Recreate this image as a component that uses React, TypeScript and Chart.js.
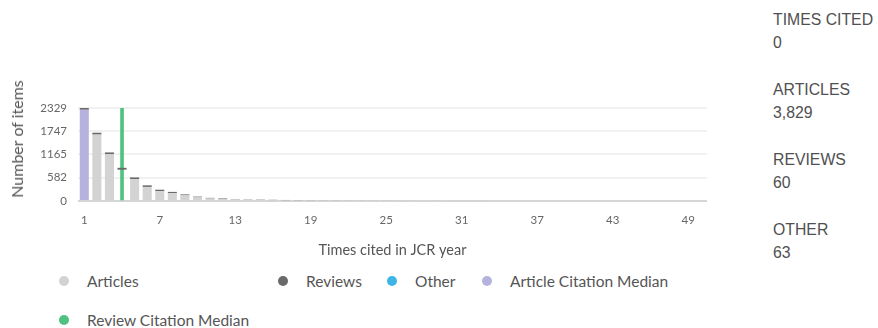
import React, { useEffect, useRef } from "react";
import { Chart, registerables } from "chart.js";

Chart.register(...registerables);

const categories = [
  "1", "2", "3", "4", "5", "6", "7", "8", "9", "10",
  "11", "12", "13", "14", "15", "16", "17", "18", "19", "20",
  "21", "22", "23", "24", "25", "26", "27", "28", "29", "30",
  "31", "32", "33", "34", "35", "36", "37", "38", "39", "40",
  "41", "42", "43", "44", "45", "46", "47", "48", "49", "50",
];

const articleValues = [
  2282, 1661, 1168, 783, 545, 352, 247, 198, 140, 90,
  63, 50, 37, 32, 28, 24, 20, 17, 14, 12,
  10, 8, 7, 6, 5, 4, 3, 3, 2, 2,
  1, 1, 1, 0, 0, 0, 0, 0, 0, 0,
  0, 0, 0, 0, 0, 0, 0, 0, 0, 0,
];

const reviewValues = [
  47, 47, 47, 47, 45, 40, 35, 30, 25, 20,
  15, 13, 10, 8, 8, 6, 6, 5, 5, 4,
  4, 3, 3, 2, 2, 2, 1, 1, 0, 0,
  0, 0, 0, 0, 0, 0, 0, 0, 0, 0,
  0, 0, 0, 0, 0, 0, 0, 0, 0, 0,
];

const otherValues: number[] = [];

const yTickValues = [0, 582, 1165, 1747, 2329];
const yMax = 2329;
const articleMedianCategory = "1";
const reviewMedianCategory = "4";
const xTickEvery = 6;
const yAxisTitle = "Number of items";
const xAxisTitle = "Times cited in JCR year";

const sidePanel = [
  { label: "TIMES CITED", value: "0" },
  { label: "ARTICLES", value: "3,829" },
  { label: "REVIEWS", value: "60" },
  { label: "OTHER", value: "63" },
];

const COLORS = {
  articles: "#d3d3d3",
  reviews: "#6a6a6a",
  other: "#3db5e6",
  articleMedian: "#b5b2dd",
  reviewMedian: "#4fc27f",
};

const legendItems = [
  { label: "Articles", color: COLORS.articles, x: 59, y: 282 },
  { label: "Reviews", color: COLORS.reviews, x: 278, y: 282 },
  { label: "Other", color: COLORS.other, x: 387, y: 282 },
  { label: "Article Citation Median", color: COLORS.articleMedian, x: 482, y: 282 },
  { label: "Review Citation Median", color: COLORS.reviewMedian, x: 59, y: 321 },
];

const FONT = "Lato, 'Noto Sans', sans-serif";

function ChartCanvas() {
  const ref = useRef<HTMLCanvasElement | null>(null);
  useEffect(() => {
    if (!ref.current) return;
    const articleColors = categories.map((c) =>
      c === articleMedianCategory
        ? COLORS.articleMedian
        : c === reviewMedianCategory
        ? "rgba(0,0,0,0)"
        : COLORS.articles
    );
    const reviewMedianValues = categories.map((c) =>
      c === reviewMedianCategory ? yMax : null
    );
    const chart = new Chart(ref.current, {
      type: "bar",
      data: {
        labels: categories,
        datasets: [
          {
            label: "Articles",
            data: articleValues,
            backgroundColor: articleColors,
            stack: "a",
            grouped: false,
            barPercentage: 0.9,
            categoryPercentage: 0.8,
            order: 0,
          } as any,
          {
            label: "Reviews",
            data: reviewValues,
            backgroundColor: COLORS.reviews,
            stack: "a",
            grouped: false,
            barPercentage: 0.9,
            categoryPercentage: 0.8,
            order: 1,
          } as any,
          {
            label: "Other",
            data: otherValues,
            backgroundColor: COLORS.other,
            stack: "a",
            grouped: false,
            order: 2,
          } as any,
          {
            label: "Review Citation Median",
            data: reviewMedianValues,
            backgroundColor: COLORS.reviewMedian,
            stack: "b",
            grouped: false,
            barThickness: 3,
            order: 3,
          } as any,
        ],
      },
      options: {
        animation: false,
        responsive: false,
        maintainAspectRatio: false,
        events: [],
        layout: { padding: { left: 3, right: 13, top: 12, bottom: 0 } },
        plugins: {
          legend: { display: false },
          tooltip: { enabled: false },
        },
        scales: {
          x: {
            stacked: false,
            grid: { display: false, drawTicks: false },
            border: { display: false },
            ticks: {
              autoSkip: false,
              maxRotation: 0,
              padding: 12,
              color: "#666",
              font: { family: FONT, size: 11.5 },
              callback: (_v: any, i: number) =>
                i % xTickEvery === 0 ? categories[i] : "",
            },
            title: {
              display: true,
              text: xAxisTitle,
              color: "#555",
              font: { family: FONT, size: 14.5 },
              padding: { top: 4, bottom: 1 },
            },
            afterFit: (s: any) => {
              s.height = 59;
            },
          },
          y: {
            stacked: true,
            min: 0,
            max: yMax,
            afterBuildTicks: (s: any) => {
              s.ticks = yTickValues.map((v) => ({ value: v }));
            },
            grid: {
              drawTicks: false,
              lineWidth: 2,
              color: (ctx: any) =>
                ctx.tick && ctx.tick.value === 0 ? "#d6d6d6" : "#f1f1f1",
            },
            border: { display: false },
            ticks: {
              padding: 11,
              color: "#666",
              font: { family: FONT, size: 11.5 },
              callback: (v: any) => String(v),
            },
            title: { display: false },
            afterFit: (s: any) => {
              s.width = 75;
            },
          },
        },
      } as any,
    });
    return () => chart.destroy();
  }, []);
  return <canvas ref={ref} width={720} height={170} style={{ width: 720, height: 170 }} />;
}

export default function App() {
  return (
    <div
      style={{
        position: "absolute",
        left: 0,
        top: 0,
        width: 878,
        height: 328,
        background: "#fff",
        overflow: "hidden",
      }}
    >
      <div style={{ position: "absolute", left: 0, top: 90 }}>
        <ChartCanvas />
      </div>
      <div
        style={{
          position: "absolute",
          left: 17,
          top: 139,
          transform: "translate(-50%, -50%) rotate(-90deg)",
          fontFamily: FONT,
          fontSize: 16,
          color: "#555",
          whiteSpace: "nowrap",
          lineHeight: "18px",
        }}
      >
        {yAxisTitle}
      </div>
      {legendItems.map((it) => (
        <div
          key={it.label}
          style={{
            position: "absolute",
            left: it.x,
            top: it.y - 11,
            height: 20,
            display: "flex",
            alignItems: "center",
            fontFamily: FONT,
            fontSize: 15.5,
            color: "#555",
            whiteSpace: "nowrap",
          }}
        >
          <span
            style={{
              display: "inline-block",
              width: 10,
              height: 10,
              borderRadius: "50%",
              background: it.color,
              marginRight: 18,
              flexShrink: 0,
            }}
          />
          {it.label}
        </div>
      ))}
      {sidePanel.map((p, i) => (
        <div
          key={p.label}
          style={{
            position: "absolute",
            left: 773,
            top: 8 + i * 70,
            fontFamily: "'Liberation Sans', Arial, sans-serif",
            fontSize: 15.8,
            lineHeight: "23px",
            color: "#505050",
            whiteSpace: "nowrap",
          }}
        >
          <div>{p.label}</div>
          <div>{p.value}</div>
        </div>
      ))}
    </div>
  );
}
